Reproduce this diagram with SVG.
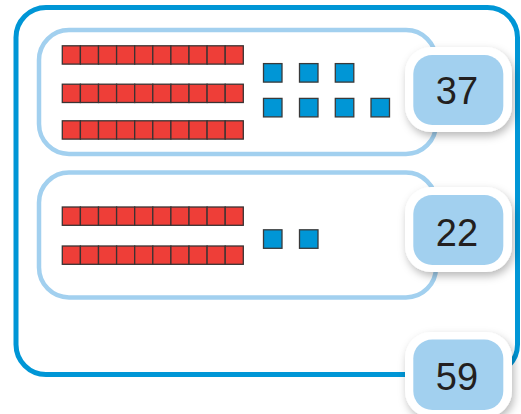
<svg xmlns="http://www.w3.org/2000/svg" xmlns:xlink="http://www.w3.org/1999/xlink" width="521" height="414" viewBox="0 0 521 414">
<style>
.outer{fill:#fff;stroke:#0096d6;stroke-width:5}
.inner{fill:#fff;stroke:#a2d0ef;stroke-width:4.5}
.red{fill:#ee3e38;stroke:#3a3333;stroke-width:1.3}
.one{fill:#0096d6;stroke:#3a3a3a;stroke-width:1.3}
.badge-w{fill:#fff}
.badge{fill:#a2d0ef}
.num{font-family:"Liberation Sans",Arial,sans-serif;font-size:38px;fill:#231f20;text-anchor:middle}
</style>
<defs>
<filter id="sh" x="-30%" y="-30%" width="160%" height="170%">
<feDropShadow dx="2" dy="4" stdDeviation="4" flood-color="#000" flood-opacity="0.28"/>
</filter>
<g id="ten">
<rect class="red" x="0" y="0" width="18.1" height="18.3"/>
<rect class="red" x="18.1" y="0" width="18.1" height="18.3"/>
<rect class="red" x="36.2" y="0" width="18.1" height="18.3"/>
<rect class="red" x="54.3" y="0" width="18.1" height="18.3"/>
<rect class="red" x="72.4" y="0" width="18.1" height="18.3"/>
<rect class="red" x="90.5" y="0" width="18.1" height="18.3"/>
<rect class="red" x="108.6" y="0" width="18.1" height="18.3"/>
<rect class="red" x="126.7" y="0" width="18.1" height="18.3"/>
<rect class="red" x="144.8" y="0" width="18.1" height="18.3"/>
<rect class="red" x="162.9" y="0" width="18.1" height="18.3"/>
</g>
<rect id="one" class="one" x="0" y="0" width="18.5" height="18.5"/>
</defs>

<g id="outer-box">
<rect class="outer" x="16" y="7.5" width="501.5" height="367" rx="30"/>
</g>

<g id="group-37">
<rect class="inner" x="39" y="30" width="397" height="124" rx="30"/>
<use xlink:href="#ten" x="62.3" y="45.8"/>
<use xlink:href="#ten" x="62.3" y="84.2"/>
<use xlink:href="#ten" x="62.3" y="120.8"/>
<use xlink:href="#one" x="263.5" y="63.6"/>
<use xlink:href="#one" x="299.5" y="63.6"/>
<use xlink:href="#one" x="335.3" y="63.6"/>
<use xlink:href="#one" x="263.5" y="98.4"/>
<use xlink:href="#one" x="299.5" y="98.4"/>
<use xlink:href="#one" x="335.3" y="98.4"/>
<use xlink:href="#one" x="371" y="98.4"/>
</g>

<g id="group-22">
<rect class="inner" x="39" y="172.5" width="397" height="125" rx="30"/>
<use xlink:href="#ten" x="62.3" y="207"/>
<use xlink:href="#ten" x="62.3" y="246"/>
<use xlink:href="#one" x="263.5" y="229.8"/>
<use xlink:href="#one" x="299.5" y="229.8"/>
</g>

<g id="badge-37">
<rect class="badge-w" x="405" y="47" width="107" height="85" rx="26" filter="url(#sh)"/>
<rect class="badge" x="413.3" y="55" width="90" height="70" rx="19"/>
<text class="num" x="457" y="104">37</text>
</g>

<g id="badge-22">
<rect class="badge-w" x="405" y="187" width="107" height="85" rx="26" filter="url(#sh)"/>
<rect class="badge" x="413.3" y="195" width="90" height="70" rx="19"/>
<text class="num" x="457" y="246">22</text>
</g>

<g id="badge-59">
<rect class="badge-w" x="405" y="332" width="107" height="85" rx="26" filter="url(#sh)"/>
<rect class="badge" x="413.3" y="339.5" width="90" height="70.5" rx="19"/>
<text class="num" x="457" y="390">59</text>
</g>
</svg>
